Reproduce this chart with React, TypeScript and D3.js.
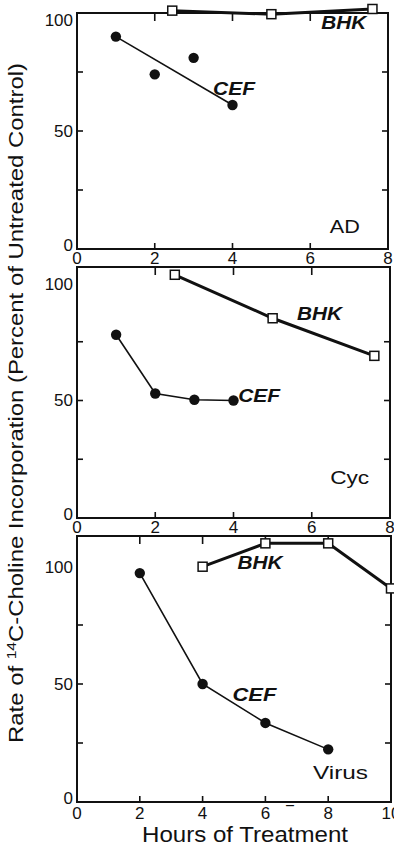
import * as d3 from 'd3';

// AD panel
const adCefHours = [1, 2, 3, 4];
const adCefValues = [90, 74, 81, 61];
const adTrendHours = [1, 4];
const adTrendValues = [90, 61];
const adBhkHours = [2.45, 5, 7.6];
const adBhkValues = [101, 99.5, 101.7];

// Cyc panel
const cycCefHours = [1, 2, 3, 4];
const cycCefValues = [78, 53, 50.3, 50];
const cycBhkHours = [2.5, 5, 7.6];
const cycBhkValues = [103.5, 85, 69];

// Virus panel
const virCefHours = [2, 4, 6, 8];
const virCefValues = [97, 50, 33.5, 22.3];
const virBhkHours = [4, 6, 8, 10];
const virBhkValues = [99.7, 109.6, 109.6, 90.5];

const yTicks = [0, 25, 50, 75, 100];
const yLabelTicks = [0, 50, 100];
const xTicks8 = [0, 2, 4, 6, 8];
const xTicks10 = [0, 2, 4, 6, 8, 10];

const W = 394;
const H = 848;
const LEFT = 77;
const FONT = '"Liberation Sans", Arial, sans-serif';
const INK = '#111';

type Series = { hours: number[]; values: number[] };
type Label = { text: string; hour: number; value: number; italic?: boolean; anchor?: string; len?: number };

interface PanelDef {
  xMax: number;
  xTicks: number[];
  right: number;
  top: number;
  bottom: number;
  y100: number;
  topShift: number;
  xLabelGap: number;
  cef: Series;
  trend?: Series;
  bhk: Series;
  labels: Label[];
}

const panels: PanelDef[] = [
  {
    xMax: 8, xTicks: xTicks8, right: 388, top: 13, bottom: 249, y100: 13, topShift: 7, xLabelGap: 9,
    cef: { hours: adCefHours, values: adCefValues },
    trend: { hours: adTrendHours, values: adTrendValues },
    bhk: { hours: adBhkHours, values: adBhkValues },
    labels: [
      { text: 'BHK', hour: 6.86, value: 95.8, italic: true, len: 45 },
      { text: 'CEF', hour: 4.04, value: 67.8, italic: true, len: 42 },
      { text: 'AD', hour: 6.89, value: 9.3, len: 30 },
    ],
  },
  {
    xMax: 8, xTicks: xTicks8, right: 390, top: 267, bottom: 518, y100: 283, topShift: 1, xLabelGap: 9,
    cef: { hours: cycCefHours, values: cycCefValues },
    bhk: { hours: cycBhkHours, values: cycBhkValues },
    labels: [
      { text: 'BHK', hour: 6.2, value: 86.6, italic: true, len: 45 },
      { text: 'CEF', hour: 4.12, value: 51.8, italic: true, anchor: 'start', len: 42 },
      { text: 'Cyc', hour: 6.97, value: 17, len: 39 },
    ],
  },
  {
    xMax: 10, xTicks: xTicks10, right: 391, top: 536, bottom: 802, y100: 566, topShift: 1, xLabelGap: 11,
    cef: { hours: virCefHours, values: virCefValues },
    bhk: { hours: virBhkHours, values: virBhkValues },
    labels: [
      { text: 'BHK', hour: 5.83, value: 101.3, italic: true, len: 45 },
      { text: 'CEF', hour: 5.65, value: 45.3, italic: true, len: 44 },
      { text: 'Virus', hour: 8.39, value: 12.3, len: 55 },
      { text: '–', hour: 6.78, value: -0.8, len: 8 },
    ],
  },
];

function Panel({ p }: { p: PanelDef }) {
  const x = d3.scaleLinear().domain([0, p.xMax]).range([LEFT, p.right]);
  const y = d3.scaleLinear().domain([0, 100]).range([p.bottom, p.y100]);
  const path = (s: Series) =>
    d3.line<number>()
      .x((h) => x(h))
      .y((_, i) => y(s.values[i]))(s.hours) ?? '';
  const inner = p.xTicks.slice(1, -1);
  const T = 6;

  return (
    <g>
      {/* frame */}
      <rect x={LEFT} y={p.top} width={p.right - LEFT} height={p.bottom - p.top}
        fill="none" stroke={INK} strokeWidth={2} />

      {/* y ticks */}
      {yTicks.slice(1, -1).map((t) => (
        <g key={'yt' + t}>
          <line x1={LEFT} x2={LEFT + T} y1={y(t)} y2={y(t)} stroke={INK} strokeWidth={1.6} />
          <line x1={p.right} x2={p.right - T} y1={y(t)} y2={y(t)} stroke={INK} strokeWidth={1.6} />
        </g>
      ))}
      {/* x ticks */}
      {inner.map((t) => (
        <g key={'xt' + t}>
          <line x1={x(t)} x2={x(t)} y1={p.top} y2={p.top + T + 2} stroke={INK} strokeWidth={1.6} />
          <line x1={x(t)} x2={x(t)} y1={p.bottom} y2={p.bottom - T} stroke={INK} strokeWidth={1.6} />
        </g>
      ))}

      {/* y labels */}
      {yLabelTicks.map((t) => (
        <text key={'yl' + t} x={LEFT - 4} y={y(t) + (t === 100 ? p.topShift : t === 0 ? -4 : 0)}
          textAnchor="end" dominantBaseline="central" fontSize={17} fill={INK} fontFamily={FONT}>
          {t}
        </text>
      ))}
      {/* x labels */}
      {p.xTicks.map((t) => (
        <text key={'xl' + t} x={x(t)} y={p.bottom + p.xLabelGap} textAnchor="middle"
          dominantBaseline="central" fontSize={17} fill={INK} fontFamily={FONT}>
          {t}
        </text>
      ))}

      {/* CEF */}
      <path d={path(p.trend ?? p.cef)} fill="none" stroke={INK} strokeWidth={1.6} />
      {p.cef.hours.map((h, i) => (
        <circle key={'c' + i} cx={x(h)} cy={y(p.cef.values[i])} r={5.2} fill={INK} />
      ))}

      {/* BHK */}
      <path d={path(p.bhk)} fill="none" stroke={INK} strokeWidth={3} />
      {p.bhk.hours.map((h, i) => (
        <rect key={'b' + i} x={x(h) - 4.5} y={y(p.bhk.values[i]) - 4.5} width={9} height={9}
          fill="#fff" stroke={INK} strokeWidth={1.5} />
      ))}

      {/* labels */}
      {p.labels.map((l) => (
        <text key={l.text} x={x(l.hour)} y={y(l.value)} textAnchor={l.anchor ?? 'middle'}
          dominantBaseline="central" fontSize={18} fontStyle={l.italic ? 'italic' : 'normal'}
          fontWeight={l.italic ? 600 : 400} fill={INK} fontFamily={FONT}
          textLength={l.len} lengthAdjust="spacingAndGlyphs">
          {l.text}
        </text>
      ))}
    </g>
  );
}

export default function App() {
  return (
    <div style={{ position: 'absolute', left: 0, top: 0, width: W, height: H, background: '#fff' }}>
      <svg width={W} height={H} viewBox={`0 0 ${W} ${H}`} style={{ display: 'block' }}>
        <rect width={W} height={H} fill="#fff" />
        {panels.map((p, i) => (
          <Panel key={i} p={p} />
        ))}
        <text transform="translate(16,403) rotate(-90)" textAnchor="middle" dominantBaseline="central"
          fontSize={20} fill={INK} fontFamily={FONT} textLength={680} lengthAdjust="spacingAndGlyphs">
          Rate of <tspan fontSize={13} dy={-5}>14</tspan>
          <tspan dy={5}>C-Choline Incorporation (Percent of Untreated Control)</tspan>
        </text>
        <text x={245} y={842} textAnchor="middle" fontSize={22}
          fill={INK} fontFamily={FONT} textLength={206} lengthAdjust="spacingAndGlyphs">
          Hours of Treatment
        </text>
      </svg>
    </div>
  );
}
